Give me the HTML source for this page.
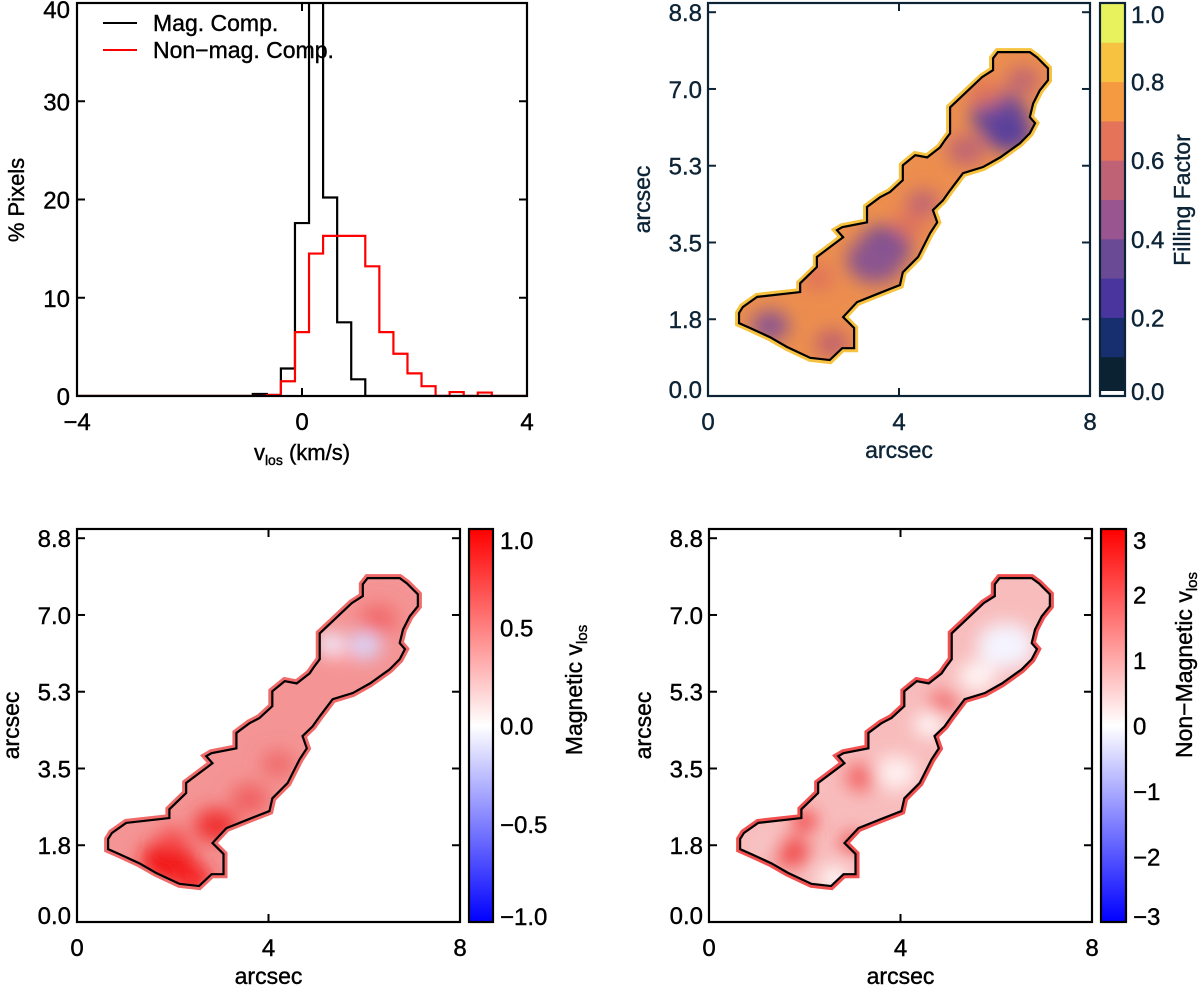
<!DOCTYPE html>
<html><head><meta charset="utf-8"><style>
html,body{margin:0;padding:0;background:#fff}
svg{display:block}
text{font-family:"Liberation Sans",sans-serif}
</style></head><body>
<svg id="fig" width="1200" height="987" viewBox="0 0 1200 987" xmlns="http://www.w3.org/2000/svg">
<defs>
<filter id="blur" x="-50%" y="-50%" width="200%" height="200%"><feGaussianBlur stdDeviation="9"/></filter>
<linearGradient id="rbgrad" x1="0" y1="1" x2="0" y2="0">
<stop offset="0" stop-color="#0000ff"/><stop offset="0.5" stop-color="#ffffff"/><stop offset="1" stop-color="#ff0000"/>
</linearGradient>
</defs>
</svg>
<script>
// ---------- histogram data ----------
const binStart = -0.875;
const binWidth = 0.25;
const magCounts = [0.2,0.1,2.8,17.6,45,20.2,7.5,1.7,0,0,0,0,0,0,0,0,0];
const nonMagCounts = [0,0.1,1.5,6.5,14.5,16.3,16.3,16.3,13.2,6.5,4.3,2.3,1.0,0,0.4,0,0.35];
const histXTicks = [-4,0,4];
const histYTicks = [0,10,20,30,40];
// ---------- map data (arcsec) ----------
const outlineX = [0.65,0.65,0.88,1.30,1.65,2.14,2.55,2.81,3.06,3.06,2.83,3.12,3.60,4.02,4.08,4.40,4.65,4.80,4.71,4.92,5.07,5.34,5.76,6.12,6.53,6.74,6.85,6.74,6.81,6.95,7.12,7.12,6.89,6.74,6.07,5.97,5.97,5.74,5.07,5.07,4.96,4.86,4.59,4.34,4.08,4.08,3.81,3.60,3.33,3.33,2.81,2.70,2.83,2.28,2.28,1.93,1.93,1.03,0.73];
const outlineY = [1.89,1.66,1.55,1.34,1.12,0.87,0.82,1.09,1.09,1.55,1.80,2.14,2.35,2.53,2.82,3.17,3.71,3.96,4.24,4.46,4.69,5.08,5.22,5.44,5.76,5.99,6.22,6.36,6.67,6.97,7.20,7.47,7.72,7.84,7.84,7.70,7.43,7.27,6.58,5.99,5.83,5.67,5.44,5.49,5.26,4.92,4.65,4.53,4.31,3.96,3.85,3.78,3.62,3.17,2.94,2.57,2.37,2.26,2.03];
const mapXTicks = [0,4,8];
const mapYTicks = [0,1.75,3.5,5.25,7.0,8.75];
const mapYLabels = ["0.0","1.8","3.5","5.3","7.0","8.8"];
// filling-factor patches: x, y, r, colour
const ffPatchX = [6.1,6.3,3.7,3.5,1.3,2.6,4.5,5.4,2.3,6.6,4.2,5.8];
const ffPatchY = [6.4,6.0,3.4,3.1,1.6,1.2,4.4,5.6,2.7,7.2,3.9,6.9];
const ffPatchR = [0.6,0.5,0.55,0.6,0.4,0.35,0.35,0.4,0.35,0.35,0.35,0.35];
const ffPatchC = ["#6a4a98","#5a3f9c","#704a95","#8a5590","#8a5590","#c06070","#c06575","#c06575","#e0735a","#c06575","#e0735a","#e0735a"];
const magPatchX = [1.9,2.4,2.9,3.6,4.2,6.0,5.5,6.3,2.0,5.3];
const magPatchY = [1.4,1.0,2.2,2.8,3.6,6.3,6.1,6.9,1.9,6.35];
const magPatchR = [0.55,0.4,0.45,0.4,0.35,0.35,0.3,0.4,0.3,0.3];
const magPatchC = ["#f21818","#f52020","#f03030","#f06060","#f06a6a","#d8d8ff","#ff9a9a","#f26a6a","#f55050","#eeeeff"];
const nmPatchX = [1.7,2.0,2.6,3.2,3.9,4.6,6.2,5.6,4.9,3.0,1.2];
const nmPatchY = [1.6,2.3,1.0,3.3,3.4,4.5,6.3,5.6,5.0,1.8,1.8];
const nmPatchR = [0.4,0.25,0.3,0.35,0.45,0.3,0.6,0.4,0.3,0.25,0.3];
const nmPatchC = ["#f04a4a","#f03030","#ffffff","#f26060","#fff0f0","#ffffff","#f4f4ff","#fff4f4","#f26a6a","#f04040","#f8c8c8"];
// colorbars
const ffLevels = ["#0a2232","#172f6e","#4a359f","#6a4a95","#985590","#c06276","#e5735a","#f59a40","#f6c240","#e8f25c"];
const ffLabels = ["0.0","0.2","0.4","0.6","0.8","1.0"];
const magCbLabels = ["-1.0","-0.5","0.0","0.5","1.0"];
const nmCbLabels = ["-3","-2","-1","0","1","2","3"];

const NS="http://www.w3.org/2000/svg";
const svg=document.getElementById('fig');
const FS=24;
function el(tag,attrs,parent){const e=document.createElementNS(NS,tag);for(const k in attrs)e.setAttribute(k,attrs[k]);(parent||svg).appendChild(e);return e;}
function txt(s,x,y,size,anchor,fill,parent,rot,fam){const t=el('text',{x:x,y:y,'font-size':size,'text-anchor':anchor||'middle',fill:fill||'#000',stroke:fill||'#000','stroke-width':0.4},parent);if(rot)t.setAttribute('transform','rotate(-90 '+x+' '+y+')');if(fam)t.setAttribute('font-family',fam);t.textContent=s;return t;}

// ---------- histogram ----------
(function(){
 const L=77,R=527,T=3,B=396;
 const xs=v=>L+(v+4)/8*(R-L), ys=v=>B-v/40*(B-T);
 const g=el('g',{});
 
 
 const cr=el('clipPath',{id:'hclip'},g);
 el('rect',{x:L,y:T,width:R-L,height:B-T},cr);
 function step(vals,col,name){
  let d='M'+xs(-4)+','+ys(0)+' L'+xs(binStart)+','+ys(0);
  vals.forEach((v,i)=>{const x0=xs(binStart+i*binWidth),x1=xs(binStart+(i+1)*binWidth);d+=' L'+x0+','+ys(v)+' L'+x1+','+ys(v);});
  d+=' L'+xs(binStart+vals.length*binWidth)+','+ys(0)+' L'+xs(4)+','+ys(0);
  const p=el('path',{d:d,fill:'none',stroke:col,'stroke-width':2.2,'clip-path':'url(#hclip)'},g);
  
  
 }
 step(magCounts,'#000','mag-comp-histogram');
 step(nonMagCounts,'#ff0000','nonmag-comp-histogram');
 el('rect',{x:L,y:T,width:R-L,height:B-T,fill:'none',stroke:'#000','stroke-width':2.2},g);
 histXTicks.forEach(v=>{el('line',{x1:xs(v),x2:xs(v),y1:B,y2:B-8,stroke:'#000','stroke-width':2},g);el('line',{x1:xs(v),x2:xs(v),y1:T,y2:T+8,stroke:'#000','stroke-width':2},g);
  const t=txt(v<0?'\u2212'+(-v):String(v),xs(v),430,FS,'middle','#000',g);});
 histYTicks.forEach(v=>{el('line',{x1:L,x2:L+8,y1:ys(v),y2:ys(v),stroke:'#000','stroke-width':2},g);el('line',{x1:R,x2:R-8,y1:ys(v),y2:ys(v),stroke:'#000','stroke-width':2},g);
  const t=txt(String(v),70,ys(v)+9+(v==40?6:0),FS,'end','#000',g);});
 const yt=txt('% Pixels',24,200,22,'middle','#000',g,true,'"Liberation Serif",serif');
 const xt=el('text',{x:302,y:460,'font-size':22,'text-anchor':'middle','font-family':'"Liberation Serif",serif',stroke:'#000','stroke-width':0.4},g);
 xt.innerHTML='v<tspan font-size="14" dy="5">los</tspan><tspan dy="-5"> (km/s)</tspan>';
 
 const lg=el('g',{},g);
 el('line',{x1:103,x2:137,y1:23,y2:23,stroke:'#000','stroke-width':2},lg);
 el('line',{x1:103,x2:137,y1:50,y2:50,stroke:'#ff0000','stroke-width':2},lg);
 const a=txt('Mag. Comp.',153,31,23,'start','#000',lg,false,'"Liberation Serif",serif');
 const b=txt('Non\u2212mag. Comp.',153,58,23,'start','#000',lg,false,'"Liberation Serif",serif');
})();

// ---------- maps ----------
let clipN=0;
function mapPanel(o){
 const {L,R,T,B,col,name,base,edge,px,py,pr,pc}=o;
 const xs=v=>L+v/8*(R-L), ys=v=>B-v/8.96*(B-T);
 const g=el('g',{});
 
 
 const id='mclip'+(clipN++);
 const cp=el('clipPath',{id:id},g);
 const pts=outlineX.map((x,i)=>xs(x)+','+ys(outlineY[i])).join(' ');
 el('polygon',{points:pts},cp);
 const ed=el('polygon',{points:pts,fill:base,stroke:edge,'stroke-width':8},g);
 
 
 const fg=el('g',{'clip-path':'url(#'+id+')'},g);
 el('polygon',{points:pts,fill:base},fg);
 const bg=el('g',{filter:'url(#blur)'},fg);
 px.forEach((x,i)=>{const r=pr[i]*(R-L)/8;const e=el('ellipse',{cx:xs(x),cy:ys(py[i]),rx:r,ry:r*0.8,fill:pc[i]},bg);
  
  });
 const ol=el('polygon',{points:pts,fill:'none',stroke:'#000','stroke-width':2.2},g);
 
 
 el('rect',{x:L,y:T,width:R-L,height:B-T,fill:'none',stroke:col,'stroke-width':2.2},g);
 mapXTicks.forEach(v=>{el('line',{x1:xs(v),x2:xs(v),y1:B,y2:B-8,stroke:col,'stroke-width':2},g);el('line',{x1:xs(v),x2:xs(v),y1:T,y2:T+8,stroke:col,'stroke-width':2},g);
  const t=txt(String(v),xs(v),B+34,FS,'middle',col,g);});
 mapYTicks.forEach((v,i)=>{el('line',{x1:L,x2:L+8,y1:ys(v),y2:ys(v),stroke:col,'stroke-width':2},g);el('line',{x1:R,x2:R-8,y1:ys(v),y2:ys(v),stroke:col,'stroke-width':2},g);
  const t=txt(mapYLabels[i],L-6,Math.min(ys(v)+9,B+2),FS,'end',col,g);});
 const xt=txt('arcsec',(L+R)/2,B+62,23,'middle',col,g);
 const yt=txt('arcsec',L-58,(T+B)/2,23,'middle',col,g,true);
 return g;
}
mapPanel({L:708,R:1090,T:3,B:396,col:'#0d2436',name:'filling-factor-map',base:'#ec8e4e',edge:'#f6c240',px:ffPatchX,py:ffPatchY,pr:ffPatchR,pc:ffPatchC});
mapPanel({L:77,R:460,T:529,B:922,col:'#000',name:'magnetic-vlos-map',base:'#f49494',edge:'#f06a6a',px:magPatchX,py:magPatchY,pr:magPatchR,pc:magPatchC});
mapPanel({L:709,R:1092,T:529,B:922,col:'#000',name:'nonmagnetic-vlos-map',base:'#f8bcbc',edge:'#f25050',px:nmPatchX,py:nmPatchY,pr:nmPatchR,pc:nmPatchC});

// ---------- colorbars ----------
(function(){
 const L=1100,R=1125,T=3,B=396,col='#0d2436';
 const g=el('g',{});
 const h=(B-T)/ffLevels.length;
 ffLevels.forEach((c,i)=>{const r=el('rect',{x:L,y:B-(i+1)*h,width:R-L,height:h+0.5,fill:c},g);});
 el('rect',{x:L,y:B-5,width:R-L,height:5,fill:'#fff'},g);
 el('rect',{x:L,y:T,width:R-L,height:B-T,fill:'none',stroke:col,'stroke-width':2.2},g);
 ffLabels.forEach((s,i)=>{const y=B-i/(ffLabels.length-1)*(B-T);const t=txt(s,1131,Math.max(Math.min(y+9,B+4),T+20),FS,'start',col,g);});
 const tt=txt('Filling Factor',1190,200,23,'middle',col,g,true,'"Liberation Serif",serif');
})();
function rbBar(L,R,labels,lx,tx,ty,name,title){
 const T=529,B=922;
 const g=el('g',{});
 el('rect',{x:L,y:T,width:R-L,height:B-T,fill:'url(#rbgrad)',stroke:'#000','stroke-width':2.2},g);
 labels.forEach((s,i)=>{const y=B-i/(labels.length-1)*(B-T);const t=txt(s.replace('-','\u2212'),lx,Math.max(Math.min(y+9,B+3),T+20),FS,'start','#000',g);});
 const t=el('text',{x:tx,y:ty,'font-size':23,'text-anchor':'middle',stroke:'#000','stroke-width':0.4,transform:'rotate(-90 '+tx+' '+ty+')'},g);
 t.innerHTML=title+' v<tspan font-size="15" dy="5">los</tspan>';
 
}
rbBar(469,493,magCbLabels,500,582,690,'magnetic-vlos-colorbar','Magnetic');
rbBar(1101,1126,nmCbLabels,1133,1192,665,'nonmagnetic-vlos-colorbar','Non\u2212Magnetic');
</script>
</body></html>
